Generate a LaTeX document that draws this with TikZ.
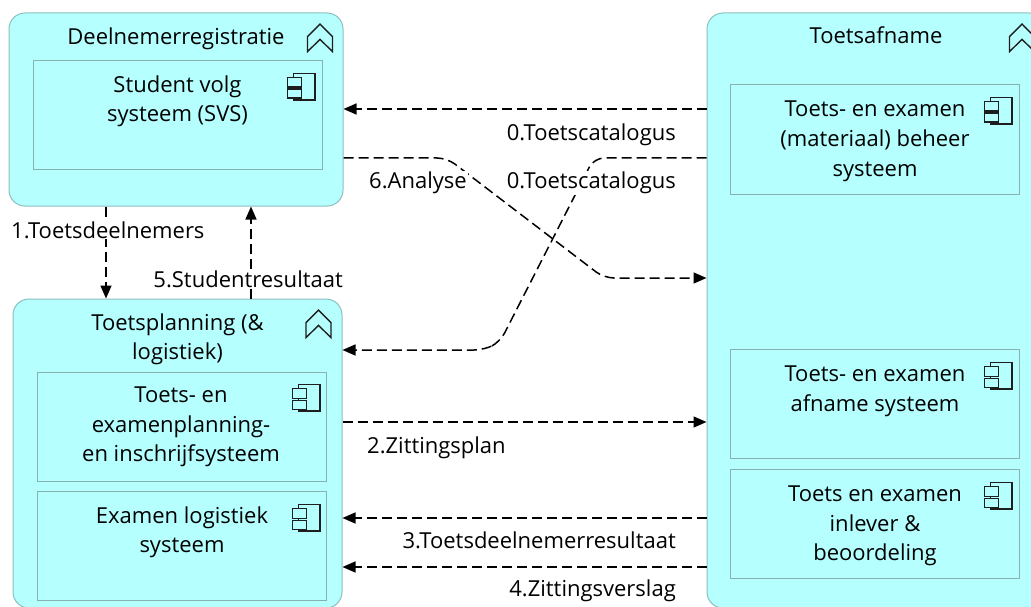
\documentclass[tikz,border=0pt]{standalone}
\usepackage{fontspec}
\setmainfont{Open Sans}
\usepackage{tikz}
\usepackage{xcolor}
\usetikzlibrary{arrows.meta}
\definecolor{appfill}{HTML}{B5FFFF}
\definecolor{apprand}{HTML}{8CBFBF}
\definecolor{blokrand}{HTML}{88B2B2}
\definecolor{icoon}{HTML}{1E1E1E}

\begin{document}
\begin{tikzpicture}[x=1pt,y=-1pt]
			\clip (0,0) rectangle (1031,607);
			\tikzstyle{groep}=[draw=apprand,fill=appfill,line width=1pt,rounded corners=16pt,inner sep=0]
			\tikzstyle{blok}=[draw=blokrand,fill=appfill,line width=1pt,inner sep=0,minimum width=289pt,minimum height=109pt]
			\tikzstyle{tekst}=[font=\fontsize{22}{29.5}\selectfont,align=center,anchor=base,inner sep=0]
			\tikzstyle{etiket}=[font=\fontsize{22}{29.5}\selectfont,fill=white,inner sep=1pt]
			\tikzstyle{pijl}=[draw=black,line width=1.5pt,dash pattern=on 10pt off 5pt,-{Triangle[length=13pt,width=11pt]}]
			\node[groep,minimum width=334pt,minimum height=193pt] (dr) at (176,109.5) {};
			\node[groep,minimum width=329pt,minimum height=309pt] (tp) at (177.5,453.5) {};
			\node[groep,minimum width=338pt,minimum height=595pt] (ta) at (876,310.5) {};
			\node[blok] (svs) at (177.5,115.5) {};
			\node[blok] (tep) at (182,426.5) {};
			\node[blok] (elg) at (182,546) {};
			\node[blok] (tmb) at (874.5,139.5) {};
			\node[blok] (tas) at (874.5,404) {};
			\node[blok] (tib) at (874.5,524) {};
			\node[tekst] (drt) at (176,44.5) {Deelnemerregistratie};
			\node[tekst] (tpt) at (177.5,359.5) {Toetsplanning (\&\\logistiek)};
			\node[tekst] (tat) at (876,44) {Toetsafname};
			\node[tekst] (svst) at (177.5,122) {Student volg\\systeem (SVS)};
			\node[tekst] (tept) at (181,461.5) {Toets- en\\examenplanning-\\en inschrijfsysteem};
			\node[tekst] (elgt) at (182,552.5) {Examen logistiek\\systeem};
			\node[tekst] (tmbt) at (875,176) {Toets- en examen\\(materiaal) beheer\\systeem};
			\node[tekst] (tast) at (875,411) {Toets- en examen\\afname systeem};
			\node[tekst] (tibt) at (875,560.5) {Toets en examen\\inlever \&\\beoordeling};
			\foreach \cx/\cy in {320/38,318.5/324,1022/38}
				\draw[icoon,line width=1.4pt,line join=miter] (\cx-12.5,\cy+13.7) -- (\cx-12.5,\cy-1.3) -- (\cx,\cy-14) -- (\cx+12.5,\cy-1.3) -- (\cx+12.5,\cy+13.7) -- (\cx,\cy+1.3) -- cycle;
			\foreach \cx/\cy in {301/86.7,306/397.7,306/517.7,998/110.7,998/375.7,998/495.7}
			{
				\draw[icoon,line width=1.4pt] (\cx-7.5,\cy-13.3) rectangle (\cx+14,\cy+13.3);
				\filldraw[draw=icoon,fill=appfill,line width=1.4pt] (\cx-13.5,\cy-9) rectangle (\cx+0.5,\cy+0.5);
				\filldraw[draw=icoon,fill=appfill,line width=1.4pt] (\cx-13.5,\cy+2.5) rectangle (\cx+0.5,\cy+11.5);
			}
			\draw[pijl] (ta.west |- 0,109) -- (dr.east |- 0,109);
			\draw[pijl,rounded corners=10pt] (ta.west |- 0,158) -- (594,158) -- (500,342) -- (484,350) -- (tp.east |- 0,350);
			\draw[pijl,rounded corners=10pt] (dr.east |- 0,158) -- (447,158) -- (604,278) -- (ta.west |- 0,278);
			\draw[pijl] (dr.south -| 106,0) -- (tp.north -| 106,0);
			\draw[pijl] (tp.north -| 251,0) -- (dr.south -| 251,0);
			\draw[pijl] (tp.east |- 0,422) -- (ta.west |- 0,422);
			\draw[pijl] (ta.west |- 0,518) -- (tp.east |- 0,518);
			\draw[pijl] (ta.west |- 0,567) -- (tp.east |- 0,567);
			\node[etiket,anchor=base east] (l0a) at (677,141) {0.Toetscatalogus};
			\node[etiket,anchor=base east] (l0b) at (677,189) {0.Toetscatalogus};
			\node[etiket,anchor=base west] (l6) at (368,189) {6.Analyse};
			\node[etiket,anchor=base west] (l1) at (10,238) {1.Toetsdeelnemers};
			\node[etiket,anchor=base east] (l5) at (344,287) {5.Studentresultaat};
			\node[etiket,anchor=base west] (l2) at (366,453) {2.Zittingsplan};
			\node[etiket,anchor=base east] (l3) at (677,548) {3.Toetsdeelnemerresultaat};
			\node[etiket,anchor=base east] (l4) at (677,596) {4.Zittingsverslag};
		\end{tikzpicture}
\end{document}
